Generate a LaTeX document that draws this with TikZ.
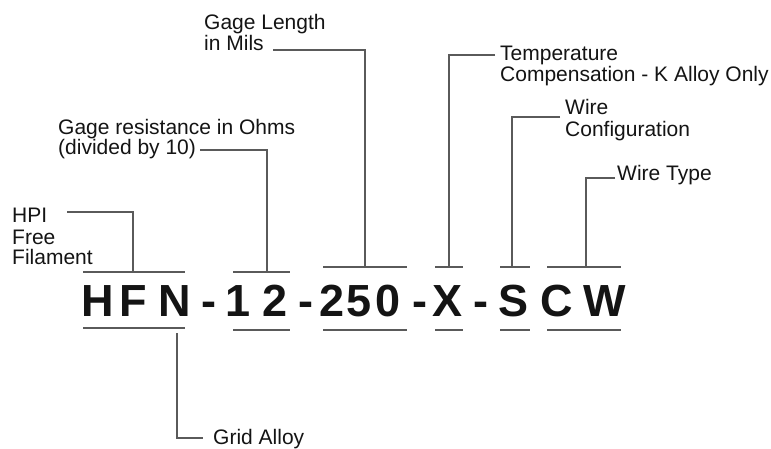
\documentclass[tikz,border=0pt]{standalone}
\usepackage{fontspec}
\setmainfont{Liberation Sans}
\definecolor{linegray}{HTML}{5A5A5A}
\definecolor{ink}{HTML}{141414}
\begin{document}
\begin{tikzpicture}[x=1pt,y=-1pt,
  lbl/.style={anchor=base west,inner sep=0pt,text=ink,font=\fontsize{21}{21}\selectfont},
  big/.style={anchor=base,inner sep=0pt,text=ink,font=\fontsize{45}{45}\selectfont\bfseries},
  bar/.style={draw=linegray,line width=1.6pt},
  lead/.style={draw=linegray,line width=1.4pt}]
\useasboundingbox[fill=white] (0,0) rectangle (771,449);

% big code letters
\node[big] (gH)  at (98,316)  {H};
\node[big] (gF)  at (133.5,316) {F};
\node[big] (gN)  at (174.5,316) {N};
\node[big] (d1)  at (209,316) {-};
\node[big] (g1)  at (238,316) {1};
\node[big] (g2)  at (275,316) {2};
\node[big] (d2)  at (306,316) {-};
\node[big] (g2b) at (332.5,316) {2};
\node[big] (g5)  at (359.5,316) {5};
\node[big] (g0)  at (388,316) {0};
\node[big] (d3)  at (419.5,316) {-};
\node[big] (gX)  at (448,316) {X};
\node[big] (d4)  at (481,316) {-};
\node[big] (gS)  at (514,316) {S};
\node[big] (gC)  at (557,316) {C};
\node[big] (gW)  at (604.5,316) {W};

% over and under bars
\draw[bar] (83,272) -- (185,272);  \draw[bar] (83,328) -- (185,328);
\draw[bar] (233,272) -- (290,272); \draw[bar] (233,330) -- (290,330);
\draw[bar] (323,267) -- (407,267); \draw[bar] (323,330) -- (407,330);
\draw[bar] (435,267) -- (463,267); \draw[bar] (435,330) -- (463,330);
\draw[bar] (500,267) -- (530,267); \draw[bar] (500,330) -- (530,330);
\draw[bar] (547,267) -- (621,267); \draw[bar] (547,330) -- (621,330);

% bar attachment points
\coordinate (hfnT) at (133,272);
\coordinate (hfnB) at (177,333);
\coordinate (t12)  at (267,272);
\coordinate (t250) at (365,267);
\coordinate (tX)   at (449,267);
\coordinate (tS)   at (512,267);
\coordinate (tCW)  at (586,267);

% labels
\node[lbl] (hpi1) at (12,223) {HPI};
\node[lbl] (hpi2) at (12,244) {Free};
\node[lbl] (hpi3) at (12,265) {Filament};
\node[lbl] (gr1) at (58,135) {Gage resistance in Ohms};
\node[lbl] (gr2) at (58,155) {(divided by 10)};
\node[lbl] (gl1) at (204,30) {Gage Length};
\node[lbl] (gl2) at (204,51) {in Mils};
\node[lbl] (tc1) at (500,61) {Temperature};
\node[lbl] (tc2) at (500,82) {Compensation - K Alloy Only};
\node[lbl] (wc1) at (565,115) {Wire};
\node[lbl] (wc2) at (565,137) {Configuration};
\node[lbl] (wt)  at (617,181) {Wire Type};
\node[lbl] (ga)  at (213,444) {Grid Alloy};

% lead end points
\coordinate (hpiE) at (67,212);
\coordinate (grE)  at (200,150);
\coordinate (glE)  at (273,50);
\coordinate (tcE)  at (495,55);
\coordinate (wcE)  at (560,117);
\coordinate (wtE)  at (615,178);
\coordinate (gaE)  at (203,438);

% leads
\draw[lead] (hpiE) -| (hfnT);
\draw[lead] (grE) -| (t12);
\draw[lead] (glE) -| (t250);
\draw[lead] (tcE) -| (tX);
\draw[lead] (wcE) -| (tS);
\draw[lead] (wtE) -| (tCW);
\draw[lead] (hfnB) |- (gaE);
\end{tikzpicture}
\end{document}
